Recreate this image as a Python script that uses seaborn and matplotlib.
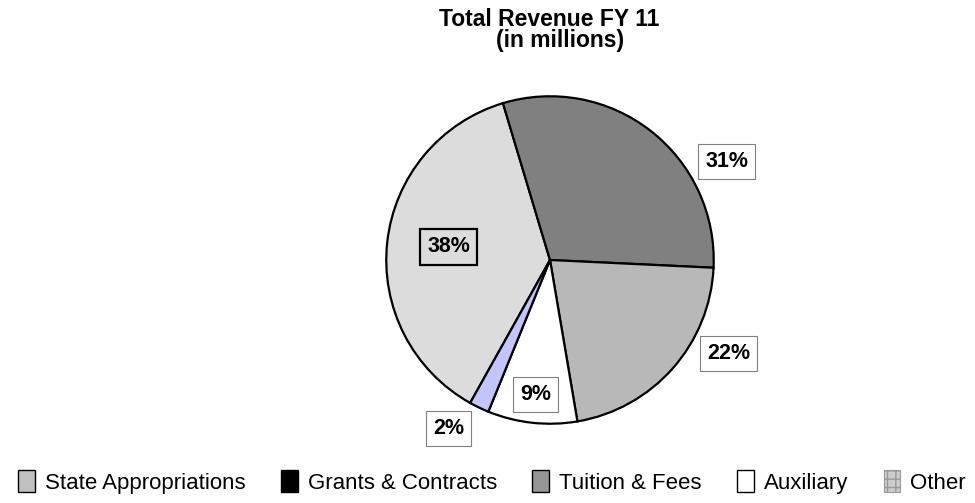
import matplotlib
matplotlib.use('Agg')
import matplotlib.pyplot as plt
import matplotlib.patches as mpatches
import seaborn as sns

# data
categories = ['State Appropriations', 'Grants & Contracts', 'Tuition & Fees', 'Auxiliary', 'Other']
shares = [38, 31, 22, 9, 2]
slice_colors = ['#dcdcdc', '#808080', '#b8b8b8', '#ffffff', '#c4c4ff']
legend_colors = ['#c0c0c0', '#000000', '#969696', '#ffffff', '#cccccc']
legend_hatch = [None, None, None, None, '++']

# label placement (relative to pie radius), like the hand-moved Excel labels
label_pos = [(-0.62, 0.08), (1.08, 0.60), (1.09, -0.57), (-0.09, -0.82), (-0.62, -1.03)]

sns.set_style('white')
plt.rcParams['font.family'] = ['Liberation Sans', 'DejaVu Sans']
plt.rcParams['text.color'] = 'black'

fig = plt.figure(figsize=(9.75, 5.03), dpi=100)
W, H = 975, 503
cx, cy, r = 550, 260, 167
ax = fig.add_axes([(cx - r) / W, 1 - (cy + r) / H, 2 * r / W, 2 * r / H])

start = 106.7 + shares[0] / sum(shares) * 360
wedges, _ = ax.pie(shares, colors=slice_colors, startangle=start, counterclock=False,
                   wedgeprops=dict(edgecolor='black', linewidth=1.6))
ax.set_xlim(-1.02, 1.02)
ax.set_ylim(-1.02, 1.02)
ax.axis('off')

for i, (v, (x, y)) in enumerate(zip(shares, label_pos)):
    if i == 0:
        box = dict(boxstyle='square,pad=0.33', facecolor='none', edgecolor='black', linewidth=1.6)
    else:
        box = dict(boxstyle='square,pad=0.33', facecolor='white', edgecolor='#808080', linewidth=0.8)
    ax.text(x, y, f'{v}%', ha='center', va='center', fontsize=15.5, fontweight='bold',
            color='black', bbox=box, clip_on=False)

fig.text(549 / W, 1 - 19 / H, 'Total Revenue FY 11', ha='center', va='center',
         fontsize=16.5, fontweight='bold', color='black')
fig.text(560 / W, 1 - 41 / H, '(in millions)', ha='center', va='center',
         fontsize=16.5, fontweight='bold', color='black')

handles = []
for c, h in zip(legend_colors, legend_hatch):
    if h:
        handles.append(mpatches.Patch(facecolor=c, edgecolor='#999999', hatch=h, linewidth=0.8))
    else:
        handles.append(mpatches.Patch(facecolor=c, edgecolor='black', linewidth=1.0))
leg = fig.legend(handles, categories, loc='center', bbox_to_anchor=(492 / W, 1 - 482 / H),
                 ncol=5, frameon=False, fontsize=16, handlelength=0.75, handleheight=1.1,
                 handletextpad=0.45, columnspacing=1.6)
for t in leg.get_texts():
    t.set_color('black')

fig.savefig('out.png', dpi=100)
